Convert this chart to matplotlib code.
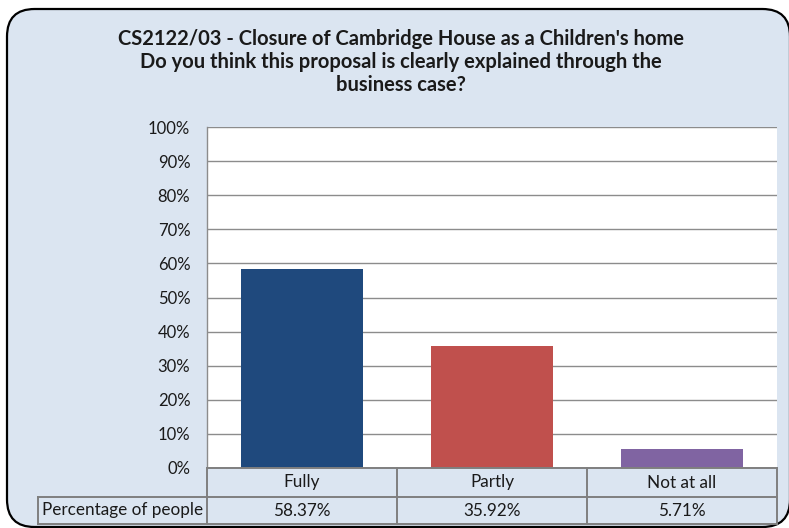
import matplotlib.pyplot as plt
from matplotlib.patches import FancyBboxPatch

categories = ["Fully", "Partly", "Not at all"]
values = [58.37, 35.92, 5.71]
value_labels = ["58.37%", "35.92%", "5.71%"]
bar_colors = ["#1F497D", "#C0504D", "#8064A2"]
series_name = "Percentage of people"
title = ("CS2122/03 - Closure of Cambridge House as a Children's home\n"
         "Do you think this proposal is clearly explained through the\n"
         "business case?")

W, H = 789, 528
plt.rcParams['font.family'] = ['Lato', 'DejaVu Sans']

fig = plt.figure(figsize=(W / 100, H / 100), dpi=100)
fig.patch.set_facecolor("white")

# rounded chart border
bg = "#DBE5F1"
box = FancyBboxPatch((7 / W, 1 - 527 / H), (790 - 7) / W, (527 - 9) / H,
                     boxstyle="round,pad=0,rounding_size=0.035",
                     transform=fig.transFigure, facecolor=bg,
                     edgecolor="black", linewidth=1.6, zorder=-5,
                     mutation_aspect=W / H)
fig.patches.append(box)

fig.text(401 / W, 1 - 62 / H, title, ha="center", va="center", fontsize=14.5,
         fontweight="bold", linespacing=1.2, color="#1a1a1a")

left, right, top, bottom = 207, 777, 127, 468
ax = fig.add_axes([left / W, 1 - bottom / H, (right - left) / W, (bottom - top) / H])
ax.set_facecolor("white")

x = range(len(categories))
ax.bar(x, values, width=0.64, color=bar_colors, zorder=3)
ax.set_xlim(-0.5, len(categories) - 0.5)
ax.set_ylim(0, 100)
ax.set_yticks(range(0, 101, 10))
ax.set_yticklabels([f"{t}%" for t in range(0, 101, 10)], fontsize=12)
ax.tick_params(axis="y", length=0, pad=12, labelcolor="#1a1a1a")
ax.set_xticks([])
ax.grid(axis="y", color="#8c8c8c", linewidth=1.0, zorder=0)
for s in ["top", "right", "bottom"]:
    ax.spines[s].set_visible(False)
ax.spines["left"].set_color("#8c8c8c")
ax.spines["left"].set_linewidth(1.0)

# data table below the axes
px = 1 / (bottom - top)
r1 = -29 * px
r2 = -56 * px
hdr = (38 - left) / (right - left)
line_kw = dict(color="#7f7f7f", linewidth=1.4, clip_on=False,
               transform=ax.transAxes, zorder=5)
ax.plot([0, 1], [0, 0], **line_kw)
ax.plot([hdr, 1], [r1, r1], **line_kw)
ax.plot([hdr, 1], [r2, r2], **line_kw)
ax.plot([hdr, hdr], [r1, r2], **line_kw)
for i in range(len(categories) + 1):
    ax.plot([i / len(categories)] * 2, [0, r2], **line_kw)

for i, (c, v) in enumerate(zip(categories, value_labels)):
    cx = (i + 0.5) / len(categories)
    ax.text(cx, r1 / 2, c, ha="center", va="center", fontsize=12.3,
            transform=ax.transAxes, color="#1a1a1a")
    ax.text(cx, (r1 + r2) / 2, v, ha="center", va="center", fontsize=12.3,
            transform=ax.transAxes, color="#1a1a1a")
ax.text(hdr + 4 / (right - left), (r1 + r2) / 2, series_name, ha="left",
        va="center", fontsize=12.3, transform=ax.transAxes, color="#1a1a1a")

fig.savefig("out.png", dpi=100, facecolor=fig.get_facecolor())
